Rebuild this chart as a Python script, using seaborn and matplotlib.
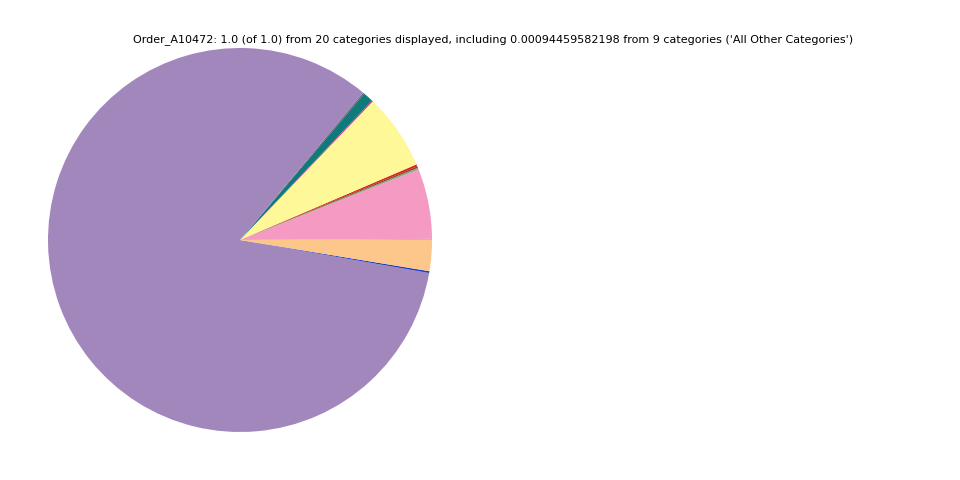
import matplotlib
matplotlib.use("Agg")
import matplotlib.pyplot as plt
import seaborn as sns

sns.set_theme(style="white")
plt.rcParams['font.family'] = ['DejaVu Sans']

categories = ["All Other Categories", "Cat B", "Cat C", "Cat D", "Cat E", "Cat F",
              "Cat G", "Cat H", "Cat I", "Cat J", "Cat K", "Cat L"]
values = [0.00094459582198, 0.059, 0.0015, 0.0012, 0.0018, 0.064,
          0.001, 0.0085, 0.0012, 0.8334, 0.0015, 0.026]
colors = ["#bdbdbd", "#f49ac3", "#7fa88a", "#8b3a1a", "#e0251b", "#fff899",
          "#e0218a", "#0f7a7a", "#6b5a70", "#a287bd", "#1f3fc0", "#fdc68a"]
title = ("Order_A10472: 1.0 (of 1.0) from 20 categories displayed, including "
         "0.00094459582198 from 9 categories ('All Other Categories')")

fig = plt.figure(figsize=(9.6, 4.8), dpi=100)
ax = fig.add_axes([0.0, 0.0, 0.5, 1.0])
ax.pie(values, colors=colors, startangle=0, counterclock=True,
       wedgeprops=dict(linewidth=0))
ax.set_aspect("equal")
fig.text(0.514, 1 - 40 / 480, title, ha="center", va="center", fontsize=8,
         color="black")
fig.savefig("out.png", dpi=100)
